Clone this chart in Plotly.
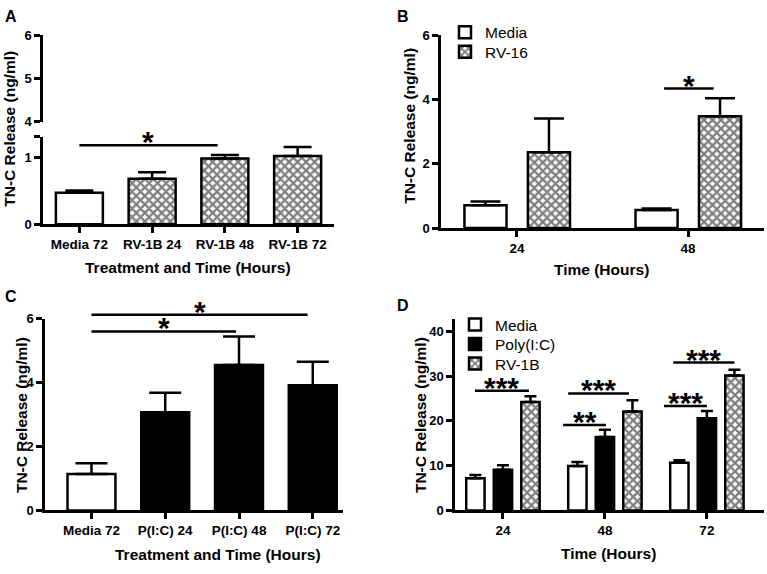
import plotly.graph_objects as go

FONT = "Liberation Sans, Arial, sans-serif"
W, H = 767, 574

# Panel A: TN-C release after RV-1B (ng/ml)
a_cats = ["Media 72", "RV-1B 24", "RV-1B 48", "RV-1B 72"]
a_vals = [0.47, 0.68, 0.98, 1.02]
a_err = [0.035, 0.095, 0.055, 0.135]

# Panel B: Media vs RV-16
b_cats = ["24", "48"]
b_media = [0.71, 0.56]
b_media_err = [0.12, 0.05]
b_rv16 = [2.36, 3.48]
b_rv16_err = [1.05, 0.56]

# Panel C: Poly(I:C) time course
c_cats = ["Media 72", "P(I:C) 24", "P(I:C) 48", "P(I:C) 72"]
c_vals = [1.14, 3.07, 4.55, 3.92]
c_err = [0.34, 0.61, 0.89, 0.73]

# Panel D: Media / Poly(I:C) / RV-1B
d_cats = ["24", "48", "72"]
d_media = [7.2, 9.9, 10.65]
d_media_err = [0.7, 0.9, 0.55]
d_poly = [9.1, 16.4, 20.6]
d_poly_err = [1.0, 1.6, 1.6]
d_rv1b = [24.2, 22.1, 30.1]
d_rv1b_err = [1.3, 2.5, 1.3]

# significance bars: (x axis, y axis, start, end, height, label)
sig_bars = [
    ("x", "y", 0.0, 1.9, 1.18, "*"),
    ("x2", "y3", 0.86, 1.15, 4.34, "*"),
    ("x3", "y6", 0.0, 1.96, 5.6, "*"),
    ("x3", "y6", 0.0, 2.93, 6.12, "*"),
    ("x4", "y5", -0.275, 0.255, 26.7, "***"),
    ("x4", "y5", 0.59, 1.01, 19.1, "**"),
    ("x4", "y5", 0.64, 1.235, 26.1, "***"),
    ("x4", "y5", 1.58, 2.0, 23.3, "***"),
    ("x4", "y5", 1.67, 2.27, 33.0, "***"),
]

CHECK = dict(shape="x", fgcolor="black", bgcolor="white", size=6, solidity=0.62)


def bars(x, y, err, xa, ya, color, pattern, width, offset, cap, name=None, legend=None):
    return go.Bar(
        x=x, y=y, xaxis=xa, yaxis=ya, width=width, offset=offset,
        name=name, showlegend=name is not None, legend=legend,
        marker=dict(color=color, line=dict(color="black", width=2.5), pattern=pattern),
        error_y=dict(type="data", array=err, arrayminus=[0] * len(err), symmetric=False,
                     color="black", thickness=2.5, width=cap),
        hoverinfo="skip",
    )


fig = go.Figure()

# A
fig.add_trace(bars(list(range(len(a_cats))), a_vals, a_err, "x", "y", "white",
                   dict(CHECK, shape=["", "x", "x", "x"]), 0.646, -0.323, 14))
# empty trace so the upper part of the broken axis gets drawn
fig.add_trace(go.Scatter(x=[None], y=[None], xaxis="x", yaxis="y2", showlegend=False,
                         hoverinfo="skip"))

# B
bx = list(range(len(b_cats)))
fig.add_trace(bars(bx, b_media, b_media_err, "x2", "y3", "white", None, 0.246, -0.307, 15,
                   "Media", "legend"))
fig.add_trace(bars(bx, b_rv16, b_rv16_err, "x2", "y3", "white", CHECK, 0.246, 0.064, 15,
                   "RV-16", "legend2"))

# C
fig.add_trace(bars(list(range(len(c_cats))), c_vals, c_err, "x3", "y4",
                   ["white", "black", "black", "black"], None, 0.65, -0.325, 16))

# D
dx = list(range(len(d_cats)))
fig.add_trace(bars(dx, d_media, d_media_err, "x4", "y5", "white", None, 0.18, -0.36, 6,
                   "Media", "legend3"))
fig.add_trace(bars(dx, d_poly, d_poly_err, "x4", "y5", "black", None, 0.18, -0.09, 6,
                   "Poly(I:C)", "legend4"))
fig.add_trace(bars(dx, d_rv1b, d_rv1b_err, "x4", "y5", "white", CHECK, 0.18, 0.18, 6,
                   "RV-1B", "legend5"))

annotations = []
for xa, ya, x0, x1, yv, label in sig_bars:
    fig.add_trace(go.Scatter(x=[x0, x1], y=[yv, yv], xaxis=xa, yaxis=ya, mode="lines",
                             line=dict(color="black", width=2.5), cliponaxis=False,
                             showlegend=False, hoverinfo="skip"))
    annotations.append(dict(x=(x0 + x1) / 2, y=yv, xref=xa, yref=ya, text=label,
                            showarrow=False, yanchor="bottom", yshift=-15,
                            font=dict(size=30, family=FONT, color="black", weight="bold")))


def px(x):
    return x / W


def py(y):
    return 1 - y / H


def label(x, y, text, size, angle=0, bold=True):
    annotations.append(dict(x=px(x), y=py(y), xref="paper", yref="paper", text=text,
                            showarrow=False, textangle=angle, xanchor="center", yanchor="middle",
                            font=dict(size=size, family=FONT, color="black",
                                      weight="bold" if bold else "normal")))


# panel letters
label(11, 10, "A", 16)
label(403, 10, "B", 16)
label(11, 297, "C", 16)
label(403, 306, "D", 16)

# axis titles
label(10, 125, "TN-C Release (ng/ml)", 15.5, -90)
label(410, 122, "TN-C Release (ng/ml)", 15.5, -90)
label(21, 419, "TN-C Release (ng/ml)", 15.5, -90)
label(420, 419, "TN-C Release (ng/ml)", 15.5, -90)
label(188, 267, "Treatment and Time (Hours)", 15.5)
label(601, 270, "Time (Hours)", 15.5)
label(218, 562, "Treatment and Time (Hours)", 15.5)
label(608, 561, "Time (Hours)", 15.5)

axis_style = dict(showline=True, linecolor="black", linewidth=2.5, ticks="outside",
                  ticklen=6, tickwidth=2.5, tickcolor="black", showgrid=False,
                  zeroline=False, fixedrange=True,
                  tickfont=dict(size=13, family=FONT, color="black", weight="bold"))
xfont = dict(size=13.5, family=FONT, color="black", weight="bold")


def legend_at(x, y):
    return dict(x=px(x), y=py(y), xanchor="left", yanchor="top", bgcolor="rgba(0,0,0,0)",
                font=dict(size=15.5, family=FONT, color="black"))


fig.update_layout(
    width=W, height=H,
    margin=dict(l=0, r=0, t=0, b=0),
    paper_bgcolor="white", plot_bgcolor="rgba(0,0,0,0)",
    barmode="overlay",
    font=dict(family=FONT, color="black"),
    annotations=annotations,
    # A (broken y axis)
    xaxis=dict(axis_style, domain=[px(43), px(334)], range=[-0.5, 3.5], anchor="y",
               tickvals=list(range(len(a_cats))), ticktext=a_cats, tickfont=xfont),
    yaxis=dict(axis_style, domain=[py(223), py(133)], range=[0, 1.31], anchor="x",
               tickvals=[0, 1, 1.31], ticktext=["0", "1", ""]),
    yaxis2=dict(axis_style, domain=[py(118), py(29)], range=[4, 6], anchor="x",
                tickvals=[4, 5, 6]),
    # B
    xaxis2=dict(axis_style, domain=[px(441), px(764)], range=[-0.444, 1.444], anchor="y3",
                tickvals=bx, ticktext=b_cats, tickfont=xfont),
    yaxis3=dict(axis_style, domain=[py(227), py(29)], range=[0, 6], anchor="x2", dtick=2),
    # C
    xaxis3=dict(axis_style, domain=[px(45), px(343)], range=[-0.63, 3.41], anchor="y4",
                tickvals=list(range(len(c_cats))), ticktext=c_cats, tickfont=xfont),
    yaxis4=dict(axis_style, domain=[py(517), py(320)], range=[0, 6], anchor="x3", dtick=2),
    # hidden copy of the C scale that reaches above the axis, for the comparison bars
    yaxis6=dict(domain=[py(517), py(300)], range=[0, 6 * 217 / 197], anchor="x3",
                visible=False, fixedrange=True),
    # D
    xaxis4=dict(axis_style, domain=[px(455), px(764)], range=[-0.47, 2.56], anchor="y5",
                tickvals=dx, ticktext=d_cats, tickfont=xfont),
    yaxis5=dict(axis_style, domain=[py(517), py(320)], range=[0, 42.8], anchor="x4", dtick=10),
    legend=legend_at(445, 9),
    legend2=legend_at(445, 29),
    legend3=legend_at(455, 309),
    legend4=legend_at(455, 329),
    legend5=legend_at(455, 349),
)

fig.write_html("out.html", config={"displayModeBar": False},
               post_script="document.body.style.margin = '0';")
